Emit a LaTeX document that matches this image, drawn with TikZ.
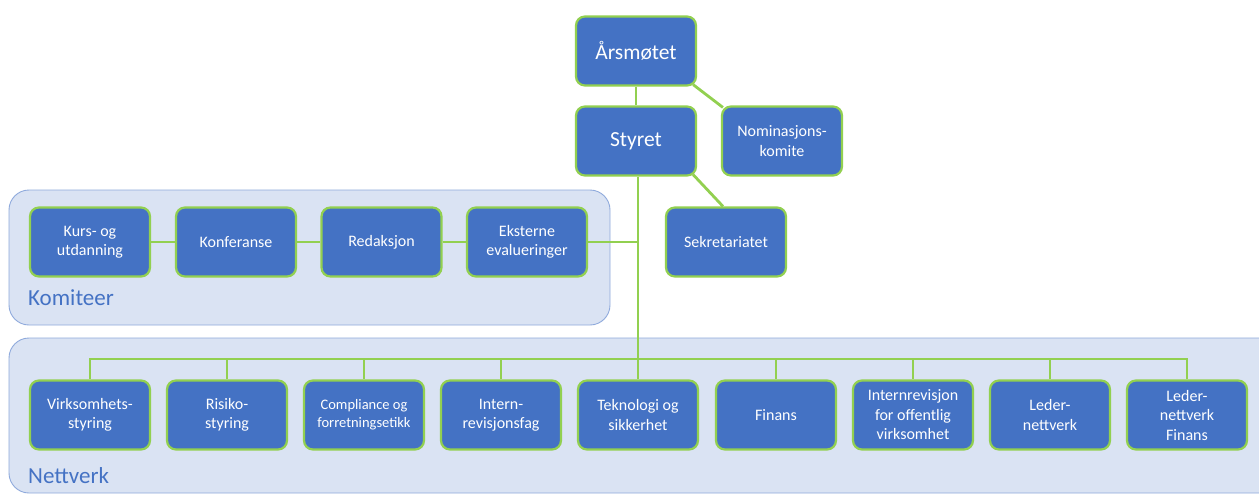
\documentclass[tikz,border=0pt]{standalone}
\usepackage{fontspec}
\setmainfont{Carlito}
\definecolor{boxblue}{RGB}{68,114,196}
\definecolor{lgreen}{RGB}{146,208,80}
\definecolor{grpfill}{RGB}{218,227,243}
\definecolor{grpline}{RGB}{143,170,220}
\definecolor{lblblue}{RGB}{68,114,196}
\pgfdeclarelayer{grplayer}
\pgfdeclarelayer{connlayer}
\pgfsetlayers{grplayer,connlayer,main}
\tikzset{
 org/.style={draw=lgreen, line width=2.2pt, fill=boxblue, rounded corners=9pt, minimum width=120pt, minimum height=69pt, text=white, align=center, font=\fontsize{16}{19.5}\selectfont, inner sep=2pt},
 big/.style={org, font=\fontsize{21.5}{24}\selectfont},
 smalltxt/.style={org, font=\fontsize{14.5}{18}\selectfont},
 conn/.style={draw=lgreen, line width=2.8pt},
 grp/.style={draw=grpline, line width=0.9pt, fill=grpfill, rounded corners=20pt},
 grplabel/.style={text=lblblue, font=\fontsize{23}{26}\selectfont, anchor=base west, inner sep=0pt}
}
\begin{document}
\begin{tikzpicture}[x=1pt,y=-1pt]
\useasboundingbox (0,0) rectangle (1259,496);
\clip (0,0) rectangle (1259,496);
\begin{pgfonlayer}{grplayer}
\fill[white] (0,0) rectangle (1259,496);
\draw[grp] (9,190) rectangle (610,325);
\draw[grp] (9,338) rectangle (1280,493);
\end{pgfonlayer}

% top
\node[big] (ars) at (636,51) {Årsmøtet};
\node[big] (sty) at (636,141) {Styret};
\node[org] (nom) at (782,141) {Nominasjons-\\komite};
\node[org] (sek) at (726,242) {Sekretariatet};

% Komiteer
\node[org] (kurs) at (90,242) {Kurs- og\\utdanning};
\node[org] (konf) at (236,242) {Konferanse};
\node[org] (red) at (381.5,242) {Redaksjon};
\node[org] (eks) at (527,242) {Eksterne\\evalueringer};
\node[grplabel] (komlbl) at (28,305) {Komiteer};

% Nettverk
\node[org] (n1) at (90,415) {Virksomhets-\\styring};
\node[org] (n2) at (227,415) {Risiko-\\styring};
\node[smalltxt] (n3) at (364,415) {Compliance og\\forretningsetikk};
\node[org] (n4) at (501,415) {Intern-\\revisjonsfag};
\node[org] (n5) at (638,415) {Teknologi og\\sikkerhet};
\node[org] (n6) at (776,415) {Finans};
\node[org] (n7) at (913,415) {Internrevisjon\\for offentlig\\virksomhet};
\node[org] (n8) at (1050,415) {Leder-\\nettverk};
\node[org] (n9) at (1187,415) {Leder-\\nettverk\\Finans};
\node[grplabel] (netlbl) at (28,483) {Nettverk};

\coordinate (bus) at (638,359);

\begin{pgfonlayer}{connlayer}
\draw[conn] (ars.south) -- (sty.north);
\draw[conn] ([xshift=-4pt,yshift=2pt]ars.south east) -- ([xshift=2pt,yshift=-2pt]nom.north west);
\draw[conn] ([xshift=-4pt,yshift=2pt]sty.south east) -- ([xshift=-3pt]sek.north);
\draw[conn] (sty.south -| bus) -- (bus);
\draw[conn] (kurs.east) -- (konf.west);
\draw[conn] (konf.east) -- (red.west);
\draw[conn] (red.east) -- (eks.west);
\draw[conn] (eks.east) -- (eks.east -| bus);
\foreach \n in {n1,n2,n3,n4,n5,n6,n7,n8,n9}{
  \draw[conn] (bus) -| (\n.north);
}
\end{pgfonlayer}
\end{tikzpicture}
\end{document}
